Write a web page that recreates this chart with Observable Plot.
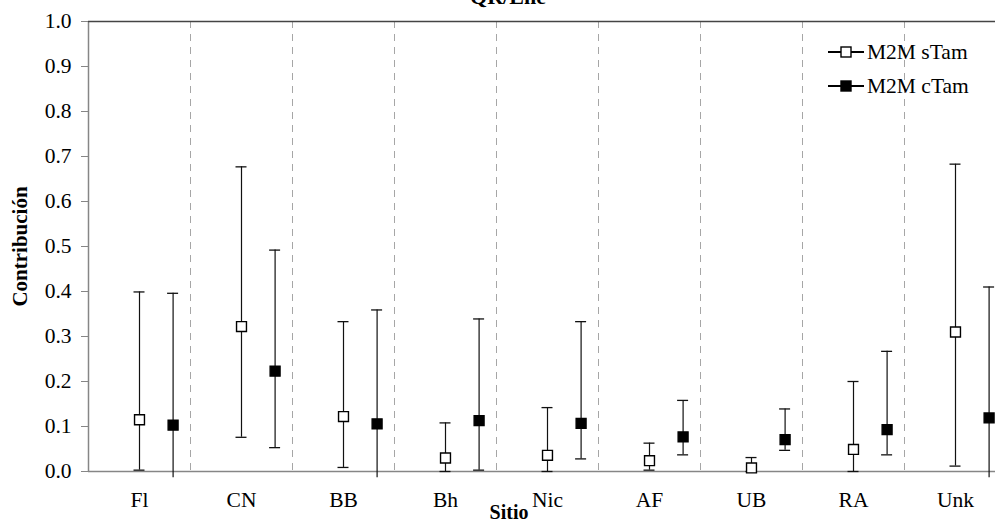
<!DOCTYPE html>
<html>
<head>
<meta charset="utf-8">
<script src="https://cdn.jsdelivr.net/npm/d3@7"></script>
<script src="https://cdn.jsdelivr.net/npm/@observablehq/plot@0.6"></script>
<style>
  html, body { margin: 0; padding: 0; background: white; overflow: hidden; }
  #wrap { position: relative; width: 995px; height: 530px; overflow: hidden; }
  #wrap svg g[aria-label*="axis"] { font-family: "Liberation Serif", serif; font-size: 21.5px; }
  #wrap svg g[aria-label*="axis"] text { fill: #000; }
  #wrap svg [aria-label^="y-axis"] line, #wrap svg [aria-label^="y-axis"] path { stroke: #868686; }
  #legend { position: absolute; left: 828px; top: 35px; font-family: "Liberation Serif", serif; font-size: 21.5px; color: #000; }
  #legend .row { display: flex; align-items: center; height: 34px; }
  #legend .row span { margin-left: 3px; }
</style>
</head>
<body>
<div id="wrap"></div>
<script>
// ---- data ----
const title = "QR/Ene";
const xTitle = "Sitio";
const yTitle = "Contribución";
const sites = ["Fl", "CN", "BB", "Bh", "Nic", "AF", "UB", "RA", "Unk"];
const yTicks = [0, 0.1, 0.2, 0.3, 0.4, 0.5, 0.6, 0.7, 0.8, 0.9, 1.0];
const seriesNames = ["M2M sTam", "M2M cTam"];

const sTamValue = [0.115, 0.322, 0.122, 0.030, 0.036, 0.024, 0.008, 0.049, 0.310];
const sTamHigh  = [0.399, 0.677, 0.333, 0.108, 0.142, 0.063, 0.031, 0.200, 0.683];
const sTamLow   = [0.003, 0.076, 0.009, 0.000, 0.000, 0.003, 0.000, 0.000, 0.012];

const cTamValue = [0.103, 0.223, 0.106, 0.113, 0.107, 0.077, 0.071, 0.093, 0.119];
const cTamHigh  = [0.396, 0.492, 0.359, 0.339, 0.333, 0.158, 0.139, 0.267, 0.410];
const cTamLow   = [-0.014, 0.053, -0.014, 0.003, 0.028, 0.037, 0.047, 0.037, -0.014];

// ---- tables ----
const sTam = sites.map((s, i) => ({site: s, v: sTamValue[i], hi: sTamHigh[i], lo: sTamLow[i]}));
const cTam = sites.map((s, i) => ({site: s, v: cTamValue[i], hi: cTamHigh[i], lo: cTamLow[i]}));

const x0 = 88, x1 = 1006;
const bw = (x1 - x0) / sites.length;
const capW = 11;
const capInset = (bw - capW) / 2;
const off = 33.6;
const font = "Liberation Serif";

function series(data, dx, fill) {
  return [
    Plot.ruleX(data, {x: "site", y1: "lo", y2: "hi", dx, stroke: "#111", strokeWidth: 1.2}),
    Plot.tickY(data, {x: "site", y: "hi", dx, insetLeft: capInset, insetRight: capInset, stroke: "#111", strokeWidth: 1.3}),
    Plot.tickY(data.filter(d => d.lo >= 0), {x: "site", y: "lo", dx, insetLeft: capInset, insetRight: capInset, stroke: "#111", strokeWidth: 1.3}),
    Plot.dot(data, {x: "site", y: "v", dx, symbol: "square", r: 5.6, fill, stroke: "#000", strokeWidth: 1.4})
  ];
}

const chart = Plot.plot({
  width: 995,
  height: 530,
  marginLeft: 88,
  marginRight: 0,
  marginTop: 21,
  marginBottom: 59,
  style: {fontFamily: font, fontSize: "21px", color: "#000", background: "white"},
  x: {type: "band", domain: sites, range: [x0, x1], padding: 0, label: null, tickSize: 0, tickPadding: 20},
  y: {domain: [0, 1], ticks: yTicks, tickFormat: d3.format(".1f"), tickSize: 7, tickPadding: 10, label: null},
  marks: [
    Plot.ruleX(sites.slice(1), {x: d => d, dx: -bw / 2, stroke: "#a6a6a6", strokeWidth: 1, strokeDasharray: "7,6"}),
    Plot.ruleX(sites.slice(0, 1), {x: d => d, dx: -bw / 2, stroke: "#868686", strokeWidth: 1.5}),
    Plot.ruleY([0], {stroke: "#868686", strokeWidth: 1.5}),
    Plot.ruleY([1], {stroke: "#444", strokeWidth: 1.5}),
    ...series(sTam, 0, "white"),
    ...series(cTam, off, "black"),
    Plot.text([title], {frameAnchor: "top", dx: -34, dy: -25, textAnchor: "middle", lineAnchor: "middle", fontWeight: "bold", fontSize: 22, fill: "#000"}),
    Plot.text([xTitle], {frameAnchor: "bottom", dx: -33, dy: 41, textAnchor: "middle", lineAnchor: "middle", fontWeight: "bold", fontSize: 20, fill: "#000"}),
    Plot.text([yTitle], {frameAnchor: "left", dx: -68, rotate: -90, textAnchor: "middle", lineAnchor: "middle", fontWeight: "bold", fontSize: 21, fill: "#000"})
  ]
});

const wrap = document.getElementById("wrap");
chart.style.maxWidth = "none";
wrap.appendChild(chart);

// legend
const legend = document.createElement("div");
legend.id = "legend";
seriesNames.forEach((name, i) => {
  const row = document.createElement("div");
  row.className = "row";
  const fill = i === 0 ? "white" : "black";
  row.innerHTML = `<svg width="36" height="14"><line x1="0" x2="36" y1="7" y2="7" stroke="#000" stroke-width="2"/><rect x="13" y="2" width="10" height="10" fill="${fill}" stroke="#000" stroke-width="1.4"/></svg><span>${name}</span>`;
  legend.appendChild(row);
});
wrap.appendChild(legend);
</script>
</body>
</html>
